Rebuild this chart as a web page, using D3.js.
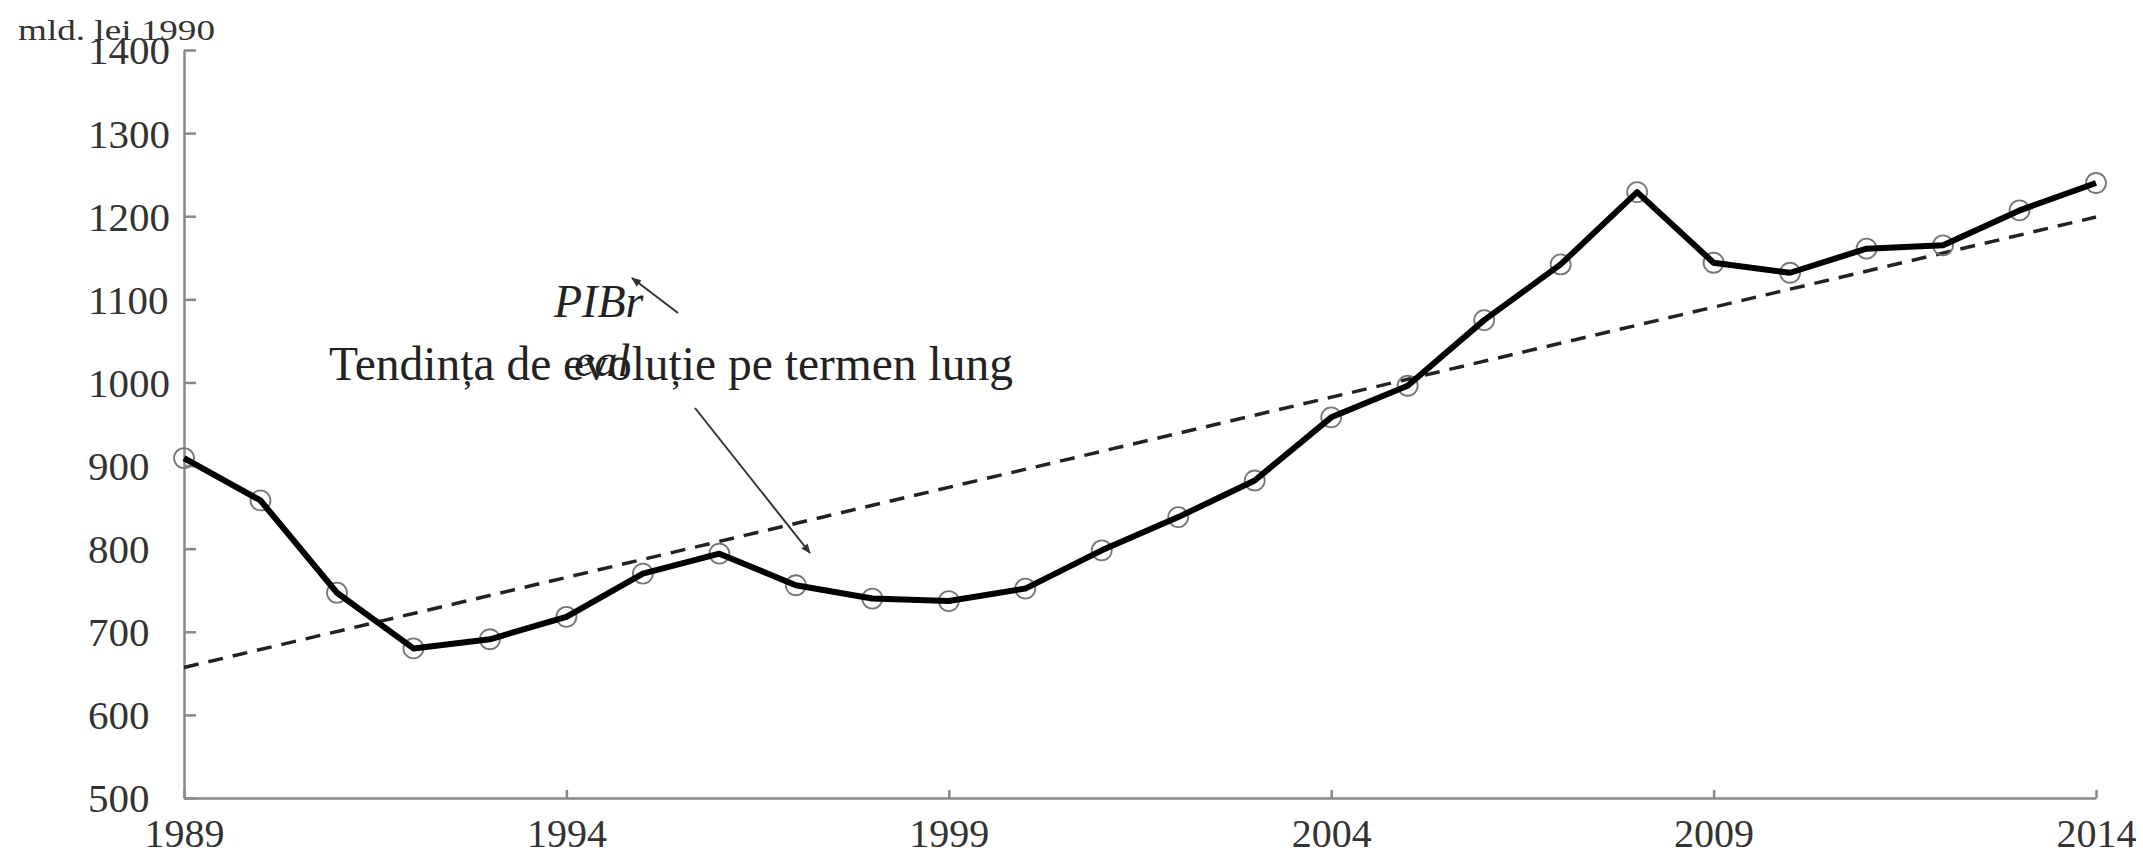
<!DOCTYPE html>
<html>
<head>
<meta charset="utf-8">
<script src="https://cdn.jsdelivr.net/npm/d3@7"></script>
<style>
  body { margin: 0; background: #fff; }
  text { font-family: "Liberation Serif", "Times New Roman", serif; }
</style>
</head>
<body>
<script>
// data ===================================================================
var years    = [1989, 1990, 1991, 1992, 1993, 1994, 1995, 1996, 1997, 1998, 1999, 2000, 2001,
                2002, 2003, 2004, 2005, 2006, 2007, 2008, 2009, 2010, 2011, 2012, 2013, 2014]
var pibReal  = [909, 858, 747, 680, 691, 718, 770, 794, 756, 740, 737, 752, 798,
                838, 882, 958, 996, 1075, 1142, 1229, 1144, 1132, 1161, 1165, 1207, 1240]
var trendYears  = [1989, 2014]
var trendValues = [657, 1199]
var xTicks   = [1989, 1994, 1999, 2004, 2009, 2014]
var yTicks   = [500, 600, 700, 800, 900, 1000, 1100, 1200, 1300, 1400]

var W = 2143, H = 857
var margin = { left: 184, right: 47, top: 50, bottom: 59 }

var svg = d3.select("body").append("svg")
    .attr("xmlns", "http://www.w3.org/2000/svg")
    .attr("width", W)
    .attr("height", H)

var x = d3.scaleLinear().domain([1989, 2014]).range([margin.left, W - margin.right])
var y = d3.scaleLinear().domain([500, 1400]).range([H - margin.bottom, margin.top])

// axes
var yAxis = svg.append("g")
    .attr("transform", "translate(" + margin.left + ",0)")
    .call(d3.axisLeft(y).tickValues(yTicks).tickSizeInner(-12).tickSizeOuter(0).tickFormat(d3.format("d")))
var xAxis = svg.append("g")
    .attr("transform", "translate(0," + (H - margin.bottom) + ")")
    .call(d3.axisBottom(x).tickValues(xTicks).tickSizeInner(-8).tickSizeOuter(0).tickFormat(d3.format("d")))

svg.selectAll(".domain, .tick line").attr("stroke", "#888").attr("stroke-width", 2.5)
yAxis.selectAll(".tick text")
    .attr("x", -96).attr("text-anchor", "start").attr("dy", "0.34em")
    .attr("font-size", 41).attr("fill", "#333")
xAxis.selectAll(".tick text")
    .attr("y", 0).attr("dy", 49)
    .attr("font-size", 40).attr("fill", "#333")

// unit label
svg.append("text")
    .attr("x", 18).attr("y", 40)
    .attr("font-size", 30)
    .attr("textLength", 197).attr("lengthAdjust", "spacingAndGlyphs")
    .attr("fill", "#333")
    .text("mld. lei 1990")

// trend line
svg.append("path")
    .datum(trendYears.map(function(d, i) { return [d, trendValues[i]] }))
    .attr("fill", "none")
    .attr("stroke", "#222")
    .attr("stroke-width", 3.5)
    .attr("stroke-dasharray", "15,10")
    .attr("d", d3.line().x(function(d) { return x(d[0]) }).y(function(d) { return y(d[1]) }))

// markers
svg.append("g").selectAll("circle")
    .data(years)
    .enter().append("circle")
    .attr("cx", function(d) { return x(d) })
    .attr("cy", function(d, i) { return y(pibReal[i]) })
    .attr("r", 10)
    .attr("fill", "none")
    .attr("stroke", "#777")
    .attr("stroke-width", 1.8)

// main series
svg.append("path")
    .datum(years.map(function(d, i) { return [d, pibReal[i]] }))
    .attr("fill", "none")
    .attr("stroke", "#000")
    .attr("stroke-width", 6)
    .attr("stroke-linejoin", "round")
    .attr("d", d3.line().x(function(d) { return x(d[0]) }).y(function(d) { return y(d[1]) }))

// annotations
var defs = svg.append("defs")
defs.append("marker")
    .attr("id", "arr")
    .attr("viewBox", "0 0 10 10")
    .attr("refX", 9).attr("refY", 5)
    .attr("markerWidth", 5).attr("markerHeight", 5)
    .attr("orient", "auto")
    .append("path").attr("d", "M0,1 L10,5 L0,9 z").attr("fill", "#333")

svg.append("line")
    .attr("x1", 678).attr("y1", 313).attr("x2", 632).attr("y2", 278)
    .attr("stroke", "#333").attr("stroke-width", 2)
    .attr("marker-end", "url(#arr)")
svg.append("line")
    .attr("x1", 695).attr("y1", 408).attr("x2", 810).attr("y2", 553)
    .attr("stroke", "#333").attr("stroke-width", 2)
    .attr("marker-end", "url(#arr)")

svg.append("text")
    .attr("x", 329).attr("y", 380)
    .attr("font-size", 47.5).attr("fill", "#222")
    .text("Tendința de evoluție pe termen lung")
svg.append("text")
    .attr("x", 554).attr("y", 317)
    .attr("font-size", 46).attr("font-style", "italic").attr("fill", "#222")
    .text("PIBr")
svg.append("text")
    .attr("x", 574).attr("y", 376)
    .attr("font-size", 46).attr("font-style", "italic").attr("fill", "#222")
    .text("eal")
</script>
</body>
</html>
